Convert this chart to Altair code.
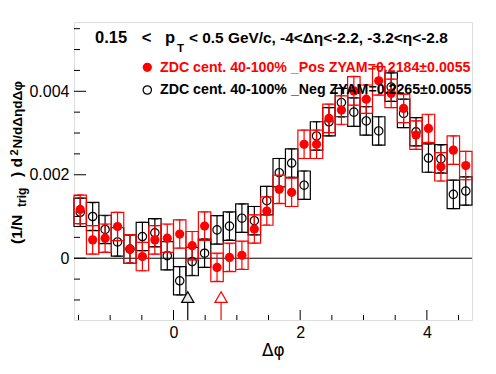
import altair as alt
import pandas as pd

# ---------------- data ----------------
dphi = [-1.4726, -1.2763, -1.0799, -0.8836, -0.6872, -0.4909, -0.2945, -0.0982,
        0.0982, 0.2945, 0.4909, 0.6872, 0.8836, 1.0799, 1.2763, 1.4726,
        1.6690, 1.8653, 2.0617, 2.2580, 2.4544, 2.6507, 2.8471, 3.0434,
        3.2398, 3.4361, 3.6325, 3.8288, 4.0252, 4.2215, 4.4179, 4.6142]
half_bin = 0.0982

pos_val = [0.00117, 0.00044, 0.00048, 0.00076, 0.00022, 0.00004, 0.00044, 0.00048,
           0.00058, 0.00030, 0.00077, -0.00022, 0.00002, 0.00007, 0.00070, 0.00113,
           0.00165, 0.00158, 0.00273, 0.00273, 0.00335, 0.00355, 0.00401, 0.00381,
           0.00425, 0.00395, 0.00359, 0.00295, 0.00311, 0.00219, 0.00259, 0.00222]
neg_val = [0.00110, 0.00100, 0.00069, 0.00039, 0.00022, 0.00052, 0.00061, 0.00006,
           -0.00054, -0.00008, 0.00012, 0.00068, 0.00077, 0.00096, 0.00090, 0.00138,
           0.00205, 0.00228, 0.00175, 0.00293, 0.00327, 0.00373, 0.00350, 0.00329,
           0.00305, 0.00410, 0.00347, 0.00303, 0.00240, 0.00238, 0.00153, 0.00161]
pos_stat = [0.00035, 0.00034, 0.00033, 0.00034, 0.00033, 0.00034, 0.00034, 0.00033,
            0.00034, 0.00034, 0.00034, 0.00033, 0.00033, 0.00033, 0.00034, 0.00033,
            0.00033, 0.00034, 0.00034, 0.00034, 0.00034, 0.00035, 0.00035, 0.00034,
            0.00034, 0.00034, 0.00034, 0.00034, 0.00033, 0.00034, 0.00034, 0.00034]
neg_stat = [0.00034, 0.00033, 0.00033, 0.00034, 0.00033, 0.00034, 0.00033, 0.00034,
            0.00034, 0.00033, 0.00034, 0.00034, 0.00033, 0.00034, 0.00034, 0.00034,
            0.00034, 0.00034, 0.00034, 0.00034, 0.00034, 0.00035, 0.00034, 0.00034,
            0.00034, 0.00034, 0.00034, 0.00034, 0.00034, 0.00033, 0.00034, 0.00034]
pos_sys = [0.00034] * 32
neg_sys = [0.00034] * 32

zyam_x = [0.225, 0.751]
zyam_y = [-0.00093, -0.00093]
zyam_base = [-0.00105, -0.00105]
zyam_series = ["Neg", "Pos"]

x_major = [0, 2, 4]
x_minor = [-1.5, -1, -0.5, 0.5, 1, 1.5, 2.5, 3, 3.5, 4.5]
y_major = [0, 0.002, 0.004]
y_minor = [-0.001, -0.0005, 0.0005, 0.001, 0.0015, 0.0025, 0.003, 0.0035, 0.0045, 0.005, 0.0055]

XMIN, XMAX = -1.5708, 4.7124
YMIN, YMAX = -0.00148, 0.00566
W, H = 398, 298
FONT = "Liberation Sans"


def frame(vals, stat, sys):
    d = pd.DataFrame({"x": dphi, "v": vals, "stat": stat, "sys": sys})
    d["lo"] = d.v - d.stat
    d["hi"] = d.v + d.stat
    d["slo"] = d.v - d.sys
    d["shi"] = d.v + d.sys
    d["x1"] = d.x - half_bin
    d["x2"] = d.x + half_bin
    return d


df_pos = frame(pos_val, pos_stat, pos_sys)
df_neg = frame(neg_val, neg_stat, neg_sys)

xs = alt.Scale(domain=[XMIN, XMAX], nice=False, zero=False)
ys = alt.Scale(domain=[YMIN, YMAX], nice=False, zero=False)

x_axis = alt.Axis(values=x_major, ticks=False, domain=False, grid=False, labelFontSize=16,
                  labelFont=FONT, labelColor="black", labelPadding=4, title=None, format="d")
y_axis = alt.Axis(values=y_major, ticks=False, domain=False, grid=False, labelFontSize=16,
                  labelFont=FONT, labelColor="black", labelPadding=5, title=None, format=".3~f")


def X(f):
    return alt.X(f, type="quantitative", scale=xs, axis=x_axis)


def Y(f):
    return alt.Y(f, type="quantitative", scale=ys, axis=y_axis)


layers = []

# zero line
zero = alt.Chart(pd.DataFrame({"y": [0]})).mark_rule(color="black", strokeWidth=1).encode(
    y=Y("y"), x=alt.value(0), x2=alt.value(W))
layers.append(zero)

# ticks (inside the frame)
xt_major = alt.Chart(pd.DataFrame({"x": x_major})).mark_rule(color="black").encode(
    x=X("x"), y=alt.value(H), y2=alt.value(H - 10))
xt_minor = alt.Chart(pd.DataFrame({"x": x_minor})).mark_rule(color="black").encode(
    x=X("x"), y=alt.value(H), y2=alt.value(H - 5))
yt_major = alt.Chart(pd.DataFrame({"y": y_major})).mark_rule(color="black").encode(
    y=Y("y"), x=alt.value(0), x2=alt.value(12))
yt_minor = alt.Chart(pd.DataFrame({"y": y_minor})).mark_rule(color="black").encode(
    y=Y("y"), x=alt.value(0), x2=alt.value(6))
layers += [xt_major, xt_minor, yt_major, yt_minor]


def series(d, color, filled):
    base = alt.Chart(d)
    box = base.mark_rect(filled=False, stroke=color, strokeWidth=1.2).encode(
        x=X("x1"), x2="x2", y=Y("slo"), y2="shi")
    err = base.mark_rule(color=color, strokeWidth=1.2).encode(x=X("x"), y=Y("lo"), y2="hi")
    cap_lo = base.mark_tick(orient="horizontal", color=color, size=7, thickness=1.2).encode(
        x=X("x"), y=Y("lo"))
    cap_hi = base.mark_tick(orient="horizontal", color=color, size=7, thickness=1.2).encode(
        x=X("x"), y=Y("hi"))
    if filled:
        pts = base.mark_point(shape="circle", filled=True, color=color, size=85, opacity=1).encode(
            x=X("x"), y=Y("v"))
    else:
        pts = base.mark_point(shape="circle", filled=False, color=color, size=70,
                              strokeWidth=1.2, opacity=1).encode(x=X("x"), y=Y("v"))
    return [box, err, cap_lo, cap_hi, pts]


layers += series(df_neg, "black", False)
layers += series(df_pos, "#ff0000", True)

# ZYAM markers
zdf = pd.DataFrame({"x": zyam_x, "y": zyam_y, "base": zyam_base, "s": zyam_series,
                    "ymin": [YMIN, YMIN]})
cscale = alt.Scale(domain=["Neg", "Pos"], range=["black", "#ff0000"])
fscale = alt.Scale(domain=["Neg", "Pos"], range=["#e8e8e8", "white"])
zl = alt.Chart(zdf).mark_rule(strokeWidth=1.2).encode(
    x=X("x"), y=Y("base"), y2="ymin", color=alt.Color("s:N", scale=cscale, legend=None))
zt = alt.Chart(zdf).mark_point(shape="triangle-up", filled=True, size=150, opacity=1,
                               strokeWidth=1.2).encode(
    x=X("x"), y=Y("y"),
    fill=alt.Fill("s:N", scale=fscale, legend=None),
    stroke=alt.Stroke("s:N", scale=cscale, legend=None))
layers += [zl, zt]


def txt(s, x, y, size, color="black", weight="bold", angle=0, font=FONT):
    return alt.Chart(pd.DataFrame({"t": [s]})).mark_text(
        align="left", baseline="alphabetic", fontSize=size, fontWeight=weight,
        font=font, color=color, angle=angle).encode(text="t:N", x=alt.value(x), y=alt.value(y))


# title (pieces placed as in the reference)
layers.append(txt("0.15", 21, 20.7, 16.5))
layers.append(txt("<", 67.7, 20.7, 16.5))
layers.append(txt("p", 91, 20.7, 16.5))
layers.append(txt("T", 103, 29.5, 11.5))
layers.append(txt("< 0.5 GeV/c, -4<\u0394\u03b7<-2.2, -3.2<\u03b7<-2.8", 115, 20.7, 15.4))

# legend
layers.append(alt.Chart(pd.DataFrame({"a": [0]})).mark_point(
    shape="circle", filled=True, color="#ff0000", size=85, opacity=1).encode(
    x=alt.value(73.3), y=alt.value(45.3)))
layers.append(alt.Chart(pd.DataFrame({"a": [0]})).mark_point(
    shape="circle", filled=False, color="black", size=70, strokeWidth=1.2, opacity=1).encode(
    x=alt.value(73.3), y=alt.value(68)))
layers.append(txt("ZDC cent. 40-100% _Pos ZYAM=0.2184\u00b10.0055", 86, 49.7, 14.2, color="#ff0000"))
layers.append(txt("ZDC cent. 40-100% _Neg ZYAM=0.2265\u00b10.0055", 86, 72, 14.2))

# x title
layers.append(alt.Chart(pd.DataFrame({"t": ["\u0394\u03c6"]})).mark_text(
    align="center", baseline="alphabetic", fontSize=17, font="DejaVu Sans", color="black").encode(
    text="t:N", x=alt.value(199.3), y=alt.value(334)))

# y title (rotated pieces)
layers.append(txt("(1/N", -52, 222, 15.5, angle=270))
layers.append(txt("trig", -48, 185, 12, angle=270))
layers.append(txt(") d", -52, 155, 15.5, angle=270))
layers.append(txt("2", -56, 133.5, 11, angle=270))
layers.append(txt("N/d\u0394\u03b7d\u0394\u03c6", -52, 126.5, 13.5, angle=270))

chart = alt.layer(*layers).properties(
    width=W, height=H,
    autosize=alt.AutoSizeParams(type="none"),
    padding={"left": 66, "top": 14, "right": 10, "bottom": 46},
).configure_view(stroke="black", strokeWidth=1.2).configure(background="white")

chart.save("out.html", embed_options={"renderer": "svg", "actions": False})
